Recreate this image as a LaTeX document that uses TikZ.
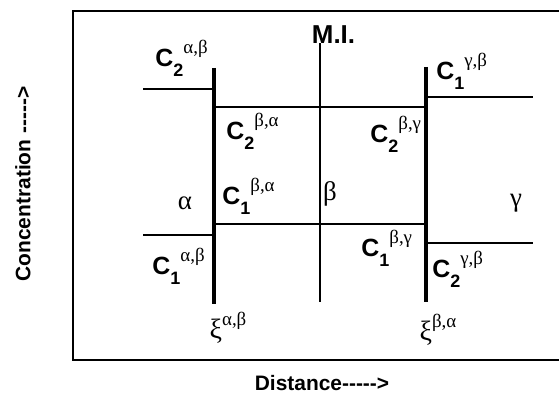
\documentclass[tikz,border=0pt]{standalone}
\usepackage{fontspec}
\setmainfont{Liberation Sans}
\newfontfamily\grk{Liberation Serif}
\newcommand{\conc}[2]{{\fontsize{12.5}{14}\selectfont\bfseries C}\raisebox{-5bp}{\fontsize{9}{10}\selectfont\bfseries #1}\raisebox{6.5bp}{\fontsize{9.5}{10}\selectfont\grk #2}}
\newcommand{\xilab}[1]{{\fontsize{14}{16}\selectfont\grk ξ\raisebox{6.5bp}{\fontsize{9.5}{10}\selectfont #1}}}
\tikzset{
  phase/.style={line width=0.6bp},
  iface/.style={line width=2.2bp},
  frame/.style={line width=0.6bp},
  lbl/.style={inner sep=0pt, anchor=base west},
  greek/.style={inner sep=0pt, font=\grk\fontsize{13.5}{15}\selectfont},
  axis/.style={inner sep=0pt, font=\fontsize{10.5}{12}\selectfont\bfseries}
}
\begin{document}
\begin{tikzpicture}[x=0.5bp, y=-0.5bp, line cap=butt]
  \useasboundingbox (0,0) rectangle (559,418);

  % frame (right edge is off the picture)
  \draw[frame] (560,11) -- (73,11) -- (73,360) -- (560,360);

  % interfaces and the middle line
  \coordinate (ab top) at (214,68);   \coordinate (ab bot) at (214,304);
  \coordinate (bg top) at (426,67);   \coordinate (bg bot) at (426,302);
  \coordinate (mi top) at (320,43);   \coordinate (mi bot) at (320,302);
  \draw[iface] (ab top) -- (ab bot);
  \draw[iface] (bg top) -- (bg bot);
  \draw[phase] (mi top) -- (mi bot);

  % concentration levels
  \draw[phase] (143,89) -- (214,89);
  \draw[phase] (214,107) -- (426,107);
  \draw[phase] (426,97) -- (533,97);
  \draw[phase] (143,235) -- (214,235);
  \draw[phase] (214,224) -- (426,224);
  \draw[phase] (426,243) -- (533,243);

  % labels
  \node[inner sep=0pt, font=\fontsize{13}{15}\selectfont\bfseries] (mi) at (333.5,35) {M.I.};
  \node[lbl] (c2ab) at (155,67)  {\conc{2}{α,β}};
  \node[lbl] (c2ba) at (226,140) {\conc{2}{β,α}};
  \node[lbl] (c1ba) at (222,205) {\conc{1}{β,α}};
  \node[lbl] (c1ab) at (152,275) {\conc{1}{α,β}};
  \node[lbl] (c1gb) at (436,80)  {\conc{1}{γ,β}};
  \node[lbl] (c2bg) at (370,143) {\conc{2}{β,γ}};
  \node[lbl] (c1bg) at (361,257) {\conc{1}{β,γ}};
  \node[lbl] (c2gb) at (432,278) {\conc{2}{γ,β}};

  \node[greek] (alpha) at (185,203) {α};
  \node[greek] (beta)  at (330,194) {β};
  \node[greek] (gamma) at (516,203) {γ};

  \node[inner sep=0pt] (xiab) at (228,328) {\xilab{α,β}};
  \node[inner sep=0pt] (xiba) at (438,330) {\xilab{β,α}};

  \node[axis, rotate=90] (ylab) at (23,184) {Concentration -{}-{}-{}-{}->};
  \node[axis] (xlab) at (322,383) {Distance-{}-{}-{}-{}->};
\end{tikzpicture}
\end{document}
